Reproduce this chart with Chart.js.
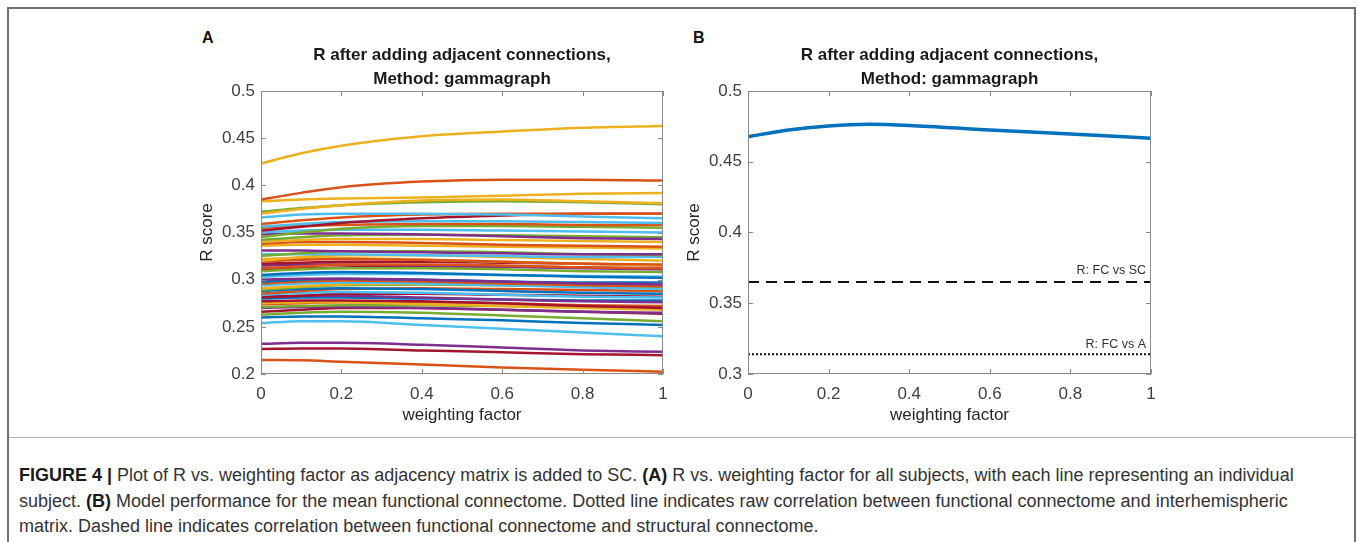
<!DOCTYPE html>
<html>
<head>
<meta charset="utf-8">
<title>R vs. weighting factor</title>
<script src="https://cdn.jsdelivr.net/npm/chart.js@4.4.1/dist/chart.umd.min.js"></script>
<style>
  body { margin: 0; width: 1358px; height: 542px; overflow: hidden; position: relative; background: #fff;
         font-family: "Liberation Sans", Arial, Helvetica, sans-serif; }
  #frame { position: absolute; left: 7px; top: 7px; width: 1349px; height: 540px;
           border: 2px solid #707070; border-bottom: none; box-sizing: border-box; }
  #rule { position: absolute; left: 9px; top: 437px; width: 1345px; height: 1px; background: #b4b4b4; }
  .panel { position: absolute; top: 20px; }
  .letter { position: absolute; top: 30px; font-size: 16px; line-height: 16px; font-weight: bold; color: #111; }
  #caption { position: absolute; left: 19px; top: 463px; font-size: 18px; line-height: 25.5px;
             color: #333; white-space: nowrap; }
  #caption b { color: #1a1a1a; }
</style>
</head>
<body>
<div id="frame"></div>
<div id="rule"></div>
<div class="letter" style="left:202px">A</div>
<div class="letter" style="left:693px">B</div>
<canvas id="panelA" class="panel" width="500" height="410" style="left:180px"></canvas>
<canvas id="panelB" class="panel" width="500" height="410" style="left:667px"></canvas>
<div id="caption">
  <b>FIGURE 4 |</b> Plot of R vs. weighting factor as adjacency matrix is added to SC. <b>(A)</b> R vs. weighting factor for all subjects, with each line representing an individual<br>
  subject. <b>(B)</b> Model performance for the mean functional connectome. Dotted line indicates raw correlation between functional connectome and interhemispheric<br>
  matrix. Dashed line indicates correlation between functional connectome and structural connectome.
</div>

<script>
// weighting factor samples
const weights = [0, 0.1, 0.2, 0.4, 0.6, 0.8, 1];
const meanWeights = [0, 0.1, 0.2, 0.3, 0.4, 0.6, 0.8, 1];

const xTickLabels = ['0', '0.2', '0.4', '0.6', '0.8', '1'];
const yTickLabelsA = ['0.2', '0.25', '0.3', '0.35', '0.4', '0.45', '0.5'];
const yTickLabelsB = ['0.3', '0.35', '0.4', '0.45', '0.5'];

const panelTitle = ['R after adding adjacent connections,', 'Method: gammagraph'];

// R score per subject, one row per subject, sampled at `weights`
const subjectR = [
  [0.423, 0.434, 0.442, 0.452, 0.457, 0.461, 0.463],
  [0.385, 0.392, 0.398, 0.404, 0.406, 0.406, 0.405],
  [0.383, 0.385, 0.386, 0.387, 0.389, 0.391, 0.392],
  [0.370, 0.375, 0.379, 0.384, 0.385, 0.383, 0.381],
  [0.372, 0.376, 0.379, 0.382, 0.383, 0.382, 0.380],
  [0.366, 0.369, 0.370, 0.370, 0.369, 0.367, 0.365],
  [0.359, 0.363, 0.366, 0.369, 0.370, 0.370, 0.370],
  [0.352, 0.356, 0.360, 0.365, 0.368, 0.370, 0.370],
  [0.356, 0.359, 0.361, 0.362, 0.362, 0.361, 0.360],
  [0.355, 0.357, 0.358, 0.359, 0.359, 0.358, 0.358],
  [0.345, 0.350, 0.354, 0.357, 0.357, 0.356, 0.355],
  [0.350, 0.352, 0.353, 0.353, 0.352, 0.351, 0.350],
  [0.348, 0.349, 0.349, 0.348, 0.346, 0.344, 0.343],
  [0.342, 0.345, 0.347, 0.348, 0.347, 0.346, 0.345],
  [0.340, 0.342, 0.343, 0.343, 0.342, 0.341, 0.340],
  [0.338, 0.340, 0.340, 0.339, 0.337, 0.336, 0.335],
  [0.336, 0.337, 0.337, 0.336, 0.335, 0.334, 0.333],
  [0.331, 0.331, 0.330, 0.329, 0.328, 0.327, 0.327],
  [0.325, 0.328, 0.330, 0.330, 0.329, 0.327, 0.326],
  [0.327, 0.327, 0.327, 0.326, 0.325, 0.324, 0.324],
  [0.320, 0.324, 0.326, 0.326, 0.324, 0.322, 0.320],
  [0.319, 0.321, 0.322, 0.321, 0.319, 0.317, 0.316],
  [0.322, 0.323, 0.323, 0.321, 0.319, 0.317, 0.315],
  [0.317, 0.318, 0.319, 0.319, 0.318, 0.317, 0.315],
  [0.312, 0.314, 0.316, 0.316, 0.315, 0.313, 0.312],
  [0.315, 0.316, 0.316, 0.315, 0.314, 0.312, 0.311],
  [0.309, 0.311, 0.312, 0.312, 0.311, 0.309, 0.308],
  [0.310, 0.312, 0.313, 0.314, 0.314, 0.313, 0.312],
  [0.305, 0.307, 0.308, 0.307, 0.305, 0.303, 0.302],
  [0.303, 0.305, 0.306, 0.306, 0.305, 0.304, 0.303],
  [0.300, 0.301, 0.301, 0.300, 0.298, 0.296, 0.295],
  [0.298, 0.300, 0.301, 0.300, 0.298, 0.297, 0.297],
  [0.296, 0.298, 0.299, 0.298, 0.296, 0.294, 0.293],
  [0.294, 0.296, 0.297, 0.296, 0.294, 0.292, 0.290],
  [0.291, 0.293, 0.295, 0.296, 0.296, 0.295, 0.294],
  [0.289, 0.292, 0.294, 0.295, 0.294, 0.293, 0.292],
  [0.288, 0.290, 0.291, 0.290, 0.288, 0.286, 0.285],
  [0.285, 0.288, 0.290, 0.291, 0.290, 0.289, 0.288],
  [0.284, 0.286, 0.287, 0.286, 0.284, 0.282, 0.281],
  [0.281, 0.283, 0.285, 0.285, 0.284, 0.283, 0.282],
  [0.282, 0.283, 0.283, 0.281, 0.279, 0.277, 0.276],
  [0.280, 0.281, 0.281, 0.280, 0.279, 0.278, 0.278],
  [0.277, 0.278, 0.278, 0.277, 0.275, 0.272, 0.270],
  [0.275, 0.276, 0.276, 0.274, 0.272, 0.270, 0.268],
  [0.274, 0.275, 0.276, 0.276, 0.275, 0.273, 0.272],
  [0.271, 0.272, 0.273, 0.273, 0.272, 0.271, 0.271],
  [0.270, 0.271, 0.271, 0.270, 0.268, 0.266, 0.265],
  [0.266, 0.268, 0.270, 0.270, 0.268, 0.266, 0.264],
  [0.263, 0.265, 0.266, 0.265, 0.262, 0.259, 0.256],
  [0.260, 0.261, 0.261, 0.259, 0.257, 0.254, 0.252],
  [0.254, 0.256, 0.256, 0.252, 0.248, 0.244, 0.240],
  [0.232, 0.233, 0.233, 0.231, 0.228, 0.225, 0.2235],
  [0.2265, 0.227, 0.227, 0.225, 0.223, 0.221, 0.220],
  [0.2148, 0.2145, 0.213, 0.210, 0.207, 0.2045, 0.2025]
];

// mean functional connectome, sampled at `meanWeights`
const meanR = [0.4677, 0.4724, 0.4753, 0.4765, 0.4757, 0.4724, 0.4696, 0.4666];
const rFcVsSc = 0.365;
const rFcVsA = 0.314;

// default MATLAB line colour order
const M = { blue: '#0072BD', orange: '#D95319', yellow: '#EDB120', purple: '#7E2F8E',
            green: '#77AC30', cyan: '#4DBEEE', maroon: '#A2142F' };
const subjectColors = [
  M.yellow, M.orange, M.yellow, M.yellow, M.green, M.cyan, M.orange, M.maroon, M.cyan, M.orange,
  M.green, M.cyan, M.purple, M.green, M.yellow, M.orange, M.yellow, M.purple, M.green, M.cyan,
  M.yellow, M.orange, M.yellow, M.maroon, M.orange, M.purple, M.green, M.maroon, M.blue, M.cyan,
  M.purple, M.blue, M.orange, M.cyan, M.yellow, M.green, M.blue, M.orange, M.cyan, M.maroon,
  M.purple, M.blue, M.maroon, M.yellow, M.orange, M.green, M.purple, M.maroon, M.green, M.blue,
  M.cyan, M.purple, M.maroon, M.orange
];

const FONT = '"Liberation Sans", Arial, Helvetica, sans-serif';
const tickFont = { family: FONT, size: 17 };
const axisTitleFont = { family: FONT, size: 17 };

// boxed axes with inward ticks on all four sides
const axesBox = {
  id: 'axesBox',
  afterDatasetsDraw(chart) {
    const { ctx, chartArea: a, scales: { x, y } } = chart;
    ctx.save();
    ctx.strokeStyle = '#8a8a8a';
    ctx.lineWidth = 1;
    ctx.strokeRect(Math.round(a.left) + 0.5, Math.round(a.top) + 0.5,
                   Math.round(a.width) - 1, Math.round(a.height) - 1);
    ctx.beginPath();
    x.ticks.forEach(t => {
      const px = Math.round(x.getPixelForValue(t.value)) + 0.5;
      ctx.moveTo(px, a.bottom); ctx.lineTo(px, a.bottom - 5);
      ctx.moveTo(px, a.top); ctx.lineTo(px, a.top + 5);
    });
    y.ticks.forEach(t => {
      const py = Math.round(y.getPixelForValue(t.value)) + 0.5;
      ctx.moveTo(a.left, py); ctx.lineTo(a.left + 5, py);
      ctx.moveTo(a.right, py); ctx.lineTo(a.right - 5, py);
    });
    ctx.stroke();
    ctx.restore();
  }
};

// small text labels sitting just above the reference lines
const refLabels = {
  id: 'refLabels',
  afterDatasetsDraw(chart) {
    const { ctx, chartArea: a, scales: { y } } = chart;
    ctx.save();
    ctx.font = '12.5px ' + FONT;
    ctx.fillStyle = '#333';
    ctx.textAlign = 'right';
    ctx.textBaseline = 'middle';
    ctx.fillText('R: FC vs SC', a.right - 5, y.getPixelForValue(rFcVsSc) - 11);
    ctx.fillText('R: FC vs A', a.right - 5, y.getPixelForValue(rFcVsA) - 10);
    ctx.restore();
  }
};

function baseOptions(yMin, yMax, yLabels) {
  return {
    responsive: false,
    devicePixelRatio: 1,
    animation: false,
    layout: { padding: { left: 10, right: 17, top: 0, bottom: 0 } },
    plugins: {
      legend: { display: false },
      tooltip: { enabled: false },
      title: {
        display: true,
        text: panelTitle,
        fullSize: false,
        color: '#1a1a1a',
        font: { family: FONT, size: 17, weight: 'bold', lineHeight: 24 / 17 },
        padding: { top: 23, bottom: 0 }
      }
    },
    scales: {
      x: {
        type: 'linear', min: 0, max: 1,
        grid: { display: false, drawTicks: false },
        border: { display: false },
        ticks: { stepSize: 0.2, padding: 10, color: '#404040', font: tickFont,
                 maxRotation: 0, autoSkip: false, callback: (v, i) => xTickLabels[i] },
        title: { display: true, text: 'weighting factor', color: '#262626', font: axisTitleFont,
                 padding: { top: 0, bottom: 4 } },
        afterFit: s => { s.height = 56; }
      },
      y: {
        min: yMin, max: yMax,
        grid: { display: false, drawTicks: false },
        border: { display: false },
        ticks: { stepSize: 0.05, padding: 6, color: '#404040', font: tickFont,
                 autoSkip: false, callback: (v, i) => yLabels[i] },
        title: { display: true, text: 'R score', color: '#262626', font: axisTitleFont,
                 padding: { top: 7, bottom: 0 } },
        afterFit: s => { s.width = 71; }
      }
    }
  };
}

const lineStyle = { pointRadius: 0, fill: false, cubicInterpolationMode: 'monotone' };

// Panel A: every subject
new Chart(document.getElementById('panelA'), {
  type: 'line',
  data: {
    datasets: subjectR.map((row, i) => ({
      ...lineStyle,
      data: row.map((r, k) => ({ x: weights[k], y: r })),
      borderColor: subjectColors[i],
      borderWidth: 2.5
    }))
  },
  options: baseOptions(0.2, 0.5, yTickLabelsA),
  plugins: [axesBox]
});

// Panel B: mean connectome plus the two baselines
new Chart(document.getElementById('panelB'), {
  type: 'line',
  data: {
    datasets: [
      { ...lineStyle, data: meanR.map((r, k) => ({ x: meanWeights[k], y: r })),
        borderColor: M.blue, borderWidth: 3.5 },
      { ...lineStyle, data: [{ x: 0, y: rFcVsSc }, { x: 1, y: rFcVsSc }],
        borderColor: '#111', borderWidth: 2, borderDash: [11, 7] },
      { ...lineStyle, data: [{ x: 0, y: rFcVsA }, { x: 1, y: rFcVsA }],
        borderColor: '#111', borderWidth: 2, borderDash: [2, 2] }
    ]
  },
  options: (() => {
    const o = baseOptions(0.3, 0.5, yTickLabelsB);
    o.layout.padding.right = 16;
    return o;
  })(),
  plugins: [axesBox, refLabels]
});
</script>
</body>
</html>
